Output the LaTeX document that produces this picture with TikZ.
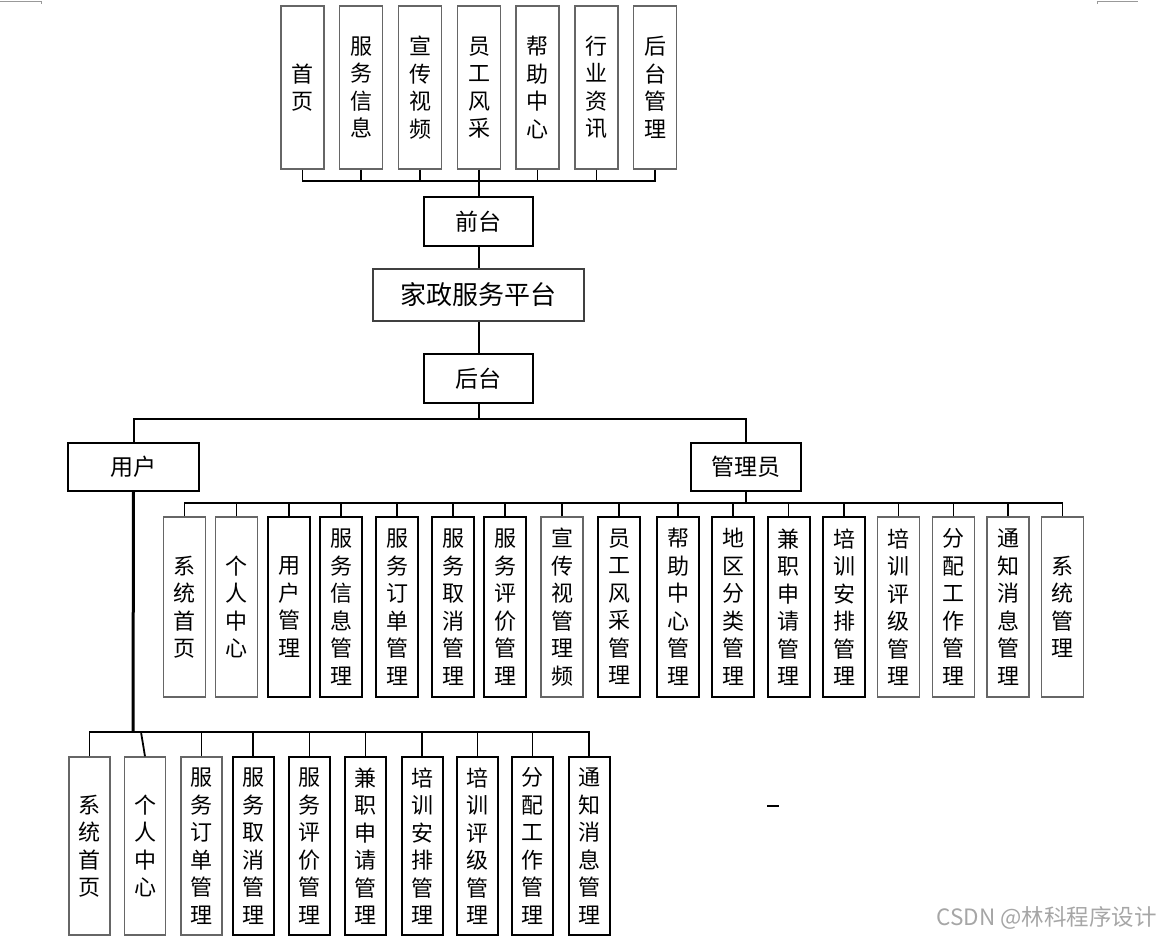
\documentclass[tikz,border=0pt]{standalone}
\usepackage{fontspec}
\setmainfont{Noto Sans CJK SC}
\usepackage{tikz}
\usetikzlibrary{calc}

\begin{document}
\begin{tikzpicture}[x=1pt, y=-1pt,
    vbox/.style={draw=black!60, line width=1.3pt, minimum width=42pt,
      inner sep=0pt, align=center, font=\fontsize{22}{27.5}\selectfont},
    blk/.style={draw=black, line width=1.4pt},
    bold/.style={draw=black, line width=2pt},
    hbox/.style={draw=black, line width=1.5pt, inner sep=0pt,
      font=\fontsize{23}{23}\selectfont},
    link/.style={line width=1.5pt},
    sublink/.style={line width=1.8pt},
    mainlink/.style={line width=2pt}]
    \useasboundingbox (0,0) rectangle (1163,941);

    % 页角标记
    \draw[black!40, line width=0.8pt] (0,1.5) -- (41,1.5) -- (41,4);
    \draw[black!40, line width=0.8pt] (1097,4) -- (1097,1.5) -- (1138,1.5);

    % 前台栏目
    \node[vbox, minimum width=43pt, minimum height=163pt] (t1) at (302.5,87.5) {首\\页};
    \node[vbox, minimum width=43pt, minimum height=163pt] (t2) at (361,87.5) {服\\务\\信\\息};
    \node[vbox, minimum width=43pt, minimum height=163pt] (t3) at (420,87.5) {宣\\传\\视\\频};
    \node[vbox, minimum width=43pt, minimum height=163pt] (t4) at (479,87.5) {员\\工\\风\\采};
    \node[vbox, minimum width=43pt, minimum height=163pt] (t5) at (537.5,87.5) {帮\\助\\中\\心};
    \node[vbox, minimum width=43pt, minimum height=163pt] (t6) at (596.5,87.5) {行\\业\\资\\讯};
    \node[vbox, minimum width=43pt, minimum height=163pt] (t7) at (655,87.5) {后\\台\\管\\理};

    % 中间主干
    \node[hbox, minimum width=109pt, minimum height=49pt] (front) at (478.5,221.5) {前台};
    \node[hbox, draw=black!75, minimum width=211pt, minimum height=52pt,
      font=\fontsize{26}{26}\selectfont] (plat) at (478.5,295) {家政服务平台};
    \node[hbox, minimum width=109pt, minimum height=49pt] (back) at (478.5,378.5) {后台};
    \node[hbox, minimum width=131pt, minimum height=48pt] (user) at (133.5,467) {用户};
    \node[hbox, minimum width=110pt, minimum height=48pt] (admin) at (746,467) {管理员};

    % 管理员功能
    \node[vbox, minimum height=180pt] (a1) at (184.5,607) {系\\统\\首\\页};
    \node[vbox, minimum height=180pt] (a2) at (236.5,607) {个\\人\\中\\心};
    \node[vbox, blk, minimum height=180pt] (a3) at (289,607) {用\\户\\管\\理};
    \node[vbox, blk, minimum height=180pt] (a4) at (341,607) {服\\务\\信\\息\\管\\理};
    \node[vbox, blk, minimum height=180pt] (a5) at (397,607) {服\\务\\订\\单\\管\\理};
    \node[vbox, blk, minimum height=180pt] (a6) at (453,607) {服\\务\\取\\消\\管\\理};
    \node[vbox, bold, minimum height=180pt] (a7) at (505,607) {服\\务\\评\\价\\管\\理};
    \node[vbox, minimum height=180pt] (a8) at (562,607) {宣\\传\\视\\管\\理\\频};
    \node[vbox, bold, minimum height=180pt] (a9) at (619,607) {员\\工\\风\\采\\管\\理};
    \node[vbox, bold, minimum height=180pt] (a10) at (678,607) {帮\\助\\中\\心\\管\\理};
    \node[vbox, bold, minimum height=180pt] (a11) at (733,607) {地\\区\\分\\类\\管\\理};
    \node[vbox, bold, minimum height=180pt] (a12) at (788.5,607) {兼\\职\\申\\请\\管\\理};
    \node[vbox, bold, minimum height=180pt] (a13) at (844,607) {培\\训\\安\\排\\管\\理};
    \node[vbox, minimum height=180pt] (a14) at (898.5,607) {培\\训\\评\\级\\管\\理};
    \node[vbox, minimum height=180pt] (a15) at (953.5,607) {分\\配\\工\\作\\管\\理};
    \node[vbox, minimum height=180pt] (a16) at (1008,607) {通\\知\\消\\息\\管\\理};
    \node[vbox, minimum height=180pt] (a17) at (1062.5,607) {系\\统\\管\\理};

    % 用户功能
    \node[vbox, minimum width=41pt, minimum height=178pt] (u1) at (89.5,846) {系\\统\\首\\页};
    \node[vbox, minimum width=41pt, minimum height=178pt] (u2) at (145,846) {个\\人\\中\\心};
    \node[vbox, minimum width=41pt, minimum height=178pt] (u3) at (201.5,846) {服\\务\\订\\单\\管\\理};
    \node[vbox, bold, minimum width=41pt, minimum height=178pt] (u4) at (253,846) {服\\务\\取\\消\\管\\理};
    \node[vbox, bold, minimum width=41pt, minimum height=178pt] (u5) at (309.5,846) {服\\务\\评\\价\\管\\理};
    \node[vbox, bold, minimum width=41pt, minimum height=178pt] (u6) at (365.5,846) {兼\\职\\申\\请\\管\\理};
    \node[vbox, bold, minimum width=41pt, minimum height=178pt] (u7) at (422,846) {培\\训\\安\\排\\管\\理};
    \node[vbox, bold, minimum width=41pt, minimum height=178pt] (u8) at (477.5,846) {培\\训\\评\\级\\管\\理};
    \node[vbox, bold, minimum width=41pt, minimum height=178pt] (u9) at (532.5,846) {分\\配\\工\\作\\管\\理};
    \node[vbox, bold, minimum width=41pt, minimum height=178pt] (u10) at (589,846) {通\\知\\消\\息\\管\\理};

    % 汇流点
    \coordinate (fbus) at (478.5,181);
    \coordinate (bbus) at (478.5,419);
    \coordinate (abus) at (746,503);
    \coordinate (ubus) at (133,732);

    % 前台连线
    \draw[link] (t1.south) |- (fbus);
    \draw[link] (t2.south) |- (fbus);
    \draw[link] (t3.south) |- (fbus);
    \draw[link] (t4.south) |- (fbus);
    \draw[link] (t5.south) |- (fbus);
    \draw[link] (t6.south) |- (fbus);
    \draw[link] (t7.south) |- (fbus);
    \draw[mainlink] (front.north) -- (fbus);

    % 主干连线
    \draw[mainlink] (front.south) -- (plat.north);
    \draw[mainlink] (plat.south) -- (back.north);
    \draw[mainlink] (back.south) -- (bbus);
    \draw[mainlink] (user.north) |- (bbus);
    \draw[mainlink] (admin.north) |- (bbus);

    % 管理员连线
    \draw[mainlink] (admin.south) -- (abus);
    \draw[sublink] (a1.north) |- (abus);
    \draw[sublink] (a2.north) |- (abus);
    \draw[sublink] (a3.north) |- (abus);
    \draw[sublink] (a4.north) |- (abus);
    \draw[sublink] (a5.north) |- (abus);
    \draw[sublink] (a6.north) |- (abus);
    \draw[sublink] (a7.north) |- (abus);
    \draw[sublink] (a8.north) |- (abus);
    \draw[sublink] (a9.north) |- (abus);
    \draw[sublink] (a10.north) |- (abus);
    \draw[sublink] (a11.north) |- (abus);
    \draw[sublink] (a12.north) |- (abus);
    \draw[sublink] (a13.north) |- (abus);
    \draw[sublink] (a14.north) |- (abus);
    \draw[sublink] (a15.north) |- (abus);
    \draw[sublink] (a16.north) |- (abus);
    \draw[sublink] (a17.north) |- (abus);

    % 用户连线
    \draw[line width=3pt] (user.south) -- (ubus);
    \draw[sublink] (u1.north) |- (ubus);
    \draw[sublink] (u2.north) -- ($(ubus)+(8,0)$);
    \draw[sublink] (u3.north) |- (ubus);
    \draw[sublink] (u4.north) |- (ubus);
    \draw[sublink] (u5.north) |- (ubus);
    \draw[sublink] (u6.north) |- (ubus);
    \draw[sublink] (u7.north) |- (ubus);
    \draw[sublink] (u8.north) |- (ubus);
    \draw[sublink] (u9.north) |- (ubus);
    \draw[sublink] (u10.north) |- (ubus);

    % 零散记号与水印
    \draw[line width=1.2pt] (767,806) -- (779,806);
    \node[anchor=east, text=black!35, inner sep=0pt,
      font=\fontsize{22.5}{22.5}\selectfont] (mark) at (1157,918) {CSDN @林科程序设计};
  \end{tikzpicture}
\end{document}
